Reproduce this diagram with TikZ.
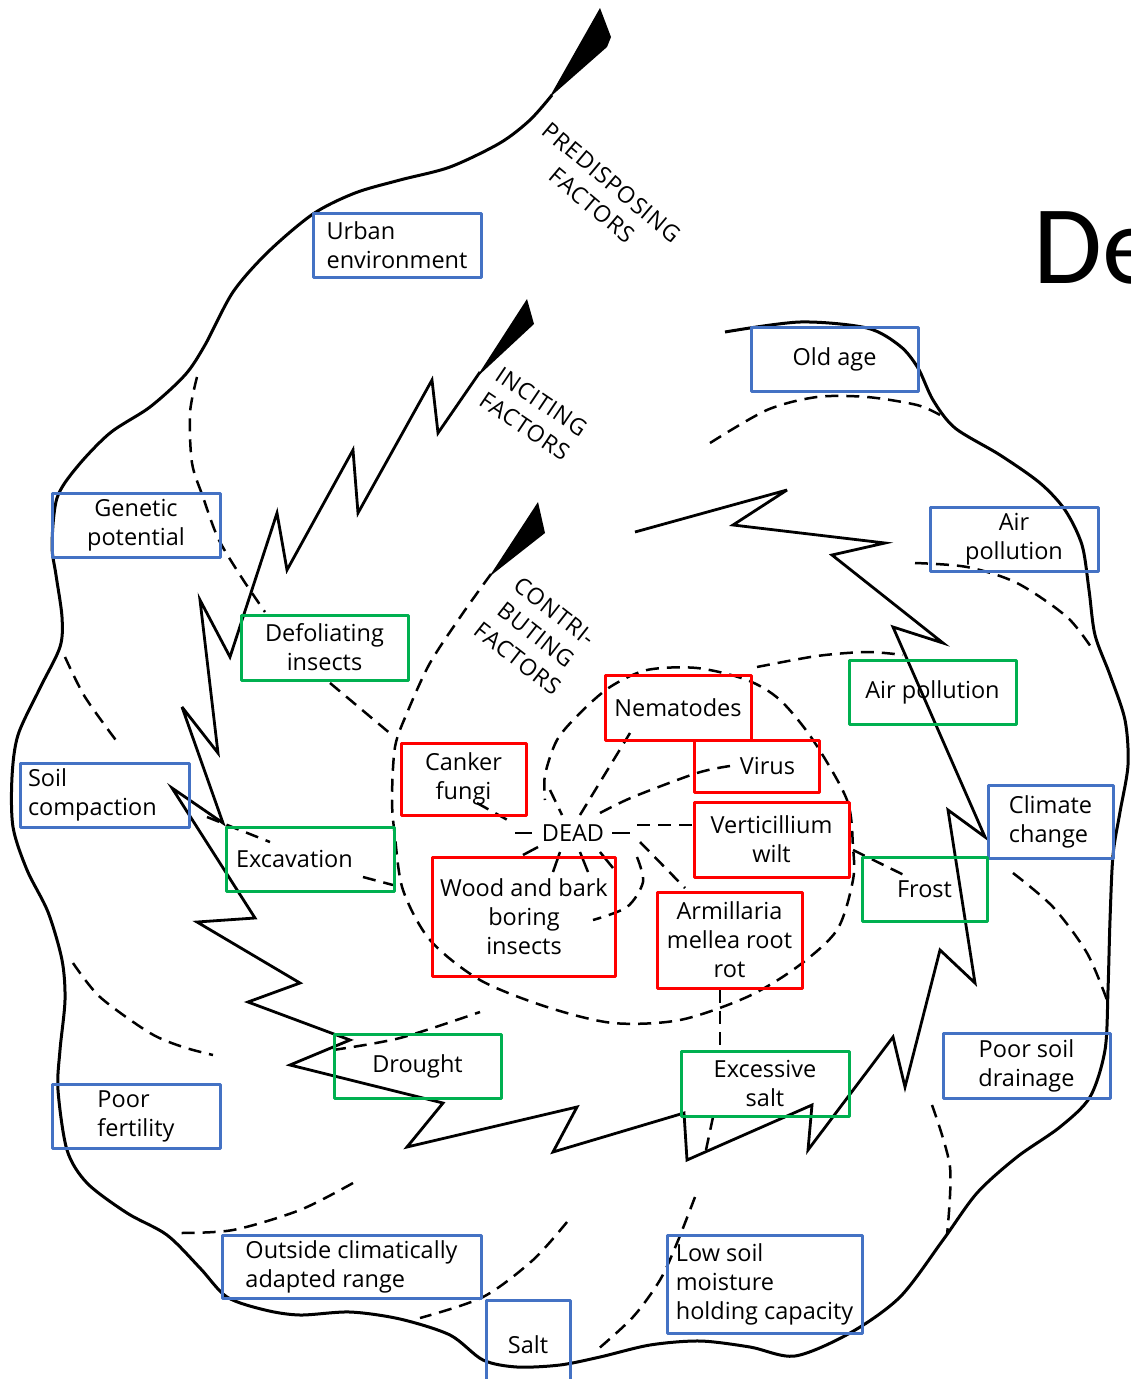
\documentclass[tikz,border=0pt]{standalone}
\usepackage{fontspec}
\setmainfont{Open Sans}
\newfontfamily\ringfont[LetterSpace=4]{Open Sans}
\newfontfamily\titlefont{Carlito}
\usepackage{tikz}
\usepackage{xcolor}
\definecolor{boxblue}{HTML}{4472C4}
\definecolor{boxgreen}{HTML}{00B050}
\definecolor{boxred}{HTML}{FF0000}

\begin{document}
\begin{tikzpicture}[x=1pt, y=-1pt, line join=round,
  spiral/.style={line width=3pt},
  bolt/.style={line width=2.8pt, line join=miter, miter limit=6},
  spoke/.style={line width=2.5pt, dash pattern=on 13pt off 8pt},
  tag/.style={draw, line width=3pt, inner xsep=8pt, inner ysep=0pt,
    font=\fontsize{23.5}{29}\selectfont},
  pre/.style={tag, draw=boxblue},
  inc/.style={tag, draw=boxgreen},
  con/.style={tag, draw=boxred},
  ring/.style={align=center, font=\ringfont\fontsize{23}{30}\selectfont}]
\useasboundingbox (0,0) rectangle (1130,1379);

% predisposing spiral
\draw [spiral] plot [smooth] coordinates {(725,332) (800,322) (867,328) (900,346) (918,368)
  (933,400) (955,428) (1000,455) (1040,483) (1065,510) (1082,545) (1089,590) (1095,635)
  (1110,675) (1125,720) (1128,765) (1120,812) (1113,855) (1110,920) (1108,990) (1105,1050)
  (1090,1097) (1060,1127) (1017,1157) (977,1193) (943,1240) (900,1297) (850,1333) (795,1356)
  (750,1347) (700,1341) (650,1345) (600,1357) (560,1365) (517,1367) (483,1360) (450,1335)
  (400,1319) (350,1312) (300,1315) (265,1310) (227,1297) (200,1268) (167,1235) (127,1213)
  (87,1183) (67,1150) (58,1090) (60,1050) (65,1000) (62,960) (48,912) (27,870) (13,827)
  (12,777) (18,735) (40,688) (60,647) (62,617) (56,575) (52,545) (57,498) (77,467) (110,433)
  (150,407) (185,375) (205,345) (233,292) (268,252) (313,214) (355,193) (400,180) (450,167)
  (500,143) (530,120) (552,95)};
\fill (549,98) -- (600,8) -- (611,37) -- (607,47) -- cycle;

% inciting bolt
\draw [bolt] (635,532) -- (787,490) -- (733,525) -- (885,543) -- (832,555) -- (943,643)
  -- (893,627) -- (985,837) -- (948,810) -- (975,983) -- (940,950) -- (905,1087)
  -- (893,1037) -- (808,1150) -- (812,1105) -- (687,1160) -- (684,1113) -- (553,1152)
  -- (577,1107) -- (407,1147) -- (443,1103) -- (290,1065) -- (350,1040) -- (248,1002)
  -- (300,983) -- (197,922) -- (255,918) -- (172,788) -- (223,823) -- (182,707)
  -- (218,753) -- (200,600) -- (230,657) -- (277,513) -- (287,570) -- (353,450)
  -- (358,513) -- (432,380) -- (438,433) -- (480,372);
\fill (476,378) -- (527,299) -- (534,324) -- cycle;

% contributing spiral
\draw [spoke] plot [smooth] coordinates {(491,574) (463,613) (430,663) (407,713) (395,747)
  (392,800) (395,837) (403,890) (430,940) (480,980) (547,1007) (613,1023) (680,1020)
  (747,997) (797,967) (837,930) (853,880) (853,847) (847,800) (813,740) (780,700)
  (747,680) (697,668) (647,670) (610,687) (580,713) (557,740) (545,775) (545,800)};
\fill (489,577) -- (538,502) -- (545,533) -- cycle;

% dashed dividers
\draw [spoke] plot [smooth] coordinates {(197,377) (190,413) (192,463) (203,497) (218,538) (240,575) (265,612)};
\draw [spoke] (330,683) -- (392,735);
\draw [spoke] plot [smooth] coordinates {(65,657) (85,697) (118,743)};
\draw [spoke] (207,817) -- (270,842);
\draw [spoke] (363,877) -- (393,885);
\draw [spoke] plot [smooth] coordinates {(73,963) (100,997) (150,1033) (183,1047) (213,1055)};
\draw [spoke] plot [smooth] coordinates {(333,1050) (400,1038) (480,1012)};
\draw [spoke] plot [smooth] coordinates {(353,1183) (300,1210) (233,1230) (177,1233)};
\draw [spoke] plot [smooth] coordinates {(567,1222) (533,1260) (483,1297) (420,1318)};
\draw [spoke] (720,990) -- (720,1050);
\draw [spoke] (713,1117) -- (706,1150);
\draw [spoke] plot [smooth] coordinates {(695,1197) (677,1243) (660,1280) (633,1317) (597,1350)};
\draw [spoke] plot [smooth] coordinates {(932,1105) (950,1167) (947,1235)};
\draw [spoke] plot [smooth] coordinates {(1013,873) (1053,907) (1087,953) (1107,1000)};
\draw [spoke] plot [smooth] coordinates {(915,563) (967,567) (1017,583) (1067,617) (1093,650)};
\draw [spoke] plot [smooth] coordinates {(710,443) (767,410) (817,397) (867,397) (917,405) (940,415)};
\draw [spoke] plot [smooth] coordinates {(757,667) (817,656) (867,652) (903,655)};
\draw [spoke] (853,850) -- (908,877);

% around DEAD
\node [font=\fontsize{23.5}{29}\selectfont] (dead) at (573,833) {DEAD};
\draw [spoke] (477,803) -- (513,823);
\draw [line width=2.5pt] (515,833) -- (532,833);
\draw [line width=2.5pt] (612,833) -- (630,833);
\draw [spoke] (637,825) -- (693,825);
\draw [spoke] plot [smooth] coordinates {(600,813) (633,797) (697,773) (730,766)};
\draw [spoke] (580,815) -- (630,733);
\draw [spoke] (550,790) -- (562,815);
\draw [line width=2.5pt] (538,847) -- (523,855);
\draw [line width=2.5pt] (560,852) -- (553,872);
\draw [line width=2.5pt] (580,852) -- (588,872);
\draw [line width=2.5pt] (600,852) -- (613,868);
\draw [spoke] plot [smooth] coordinates {(637,857) (643,882) (627,907) (593,920)};
\draw [spoke] (640,842) -- (685,888);

% ring labels
\node [ring, rotate=-40] (predis) at (602,194) {PREDISPOSING\\FACTORS};
\node [ring, rotate=-34] (incit) at (533,414) {INCITING\\FACTORS};
\node [ring, rotate=-38] (contri) at (536,635) {CONTRI-\\BUTING\\FACTORS};

% predisposing factors
\node [pre, align=left, minimum width=168pt, minimum height=64pt] (urban) at (397,245) {Urban\\environment};
\node [pre, minimum width=167pt, minimum height=64pt] (oldage) at (834.5,359) {Old age};
\node [pre, align=center, minimum width=168pt, minimum height=64pt] (genetic) at (136,525) {Genetic\\potential};
\node [pre, align=center, minimum width=168pt, minimum height=64pt] (airpre) at (1014,539) {Air\\pollution};
\node [pre, align=left, text width=153pt, minimum height=64pt] (soil) at (104.5,795) {Soil\\compaction};
\node [pre, align=left, minimum width=125pt, minimum height=73pt] (climate) at (1050.5,821.5) {Climate\\change};
\node [pre, align=center, minimum width=167pt, minimum height=65pt] (drainage) at (1026.5,1065.5) {Poor soil\\drainage};
\node [pre, align=left, minimum width=168pt, minimum height=64pt] (fertility) at (136,1116) {Poor\\fertility};
\node [pre, align=left, minimum width=259pt, minimum height=63pt] (outside) at (351.5,1266.5) {Outside climatically\\adapted range};
\node [pre, minimum width=84pt, minimum height=90pt] (salt) at (528,1345) {Salt};
\node [pre, align=left, minimum width=195pt, minimum height=98pt] (lowsoil) at (764.5,1284) {Low soil\\moisture\\holding capacity};

% inciting factors
\node [inc, align=center, minimum width=167pt, minimum height=65pt] (defol) at (324.5,647.5) {Defoliating\\insects};
\node [inc, align=left, inner xsep=10pt, text width=148pt, minimum height=64pt] (excav) at (310,859) {Excavation};
\node [inc, minimum width=167pt, minimum height=64pt] (airinc) at (932.5,692) {Air pollution};
\node [inc, minimum width=125pt, minimum height=64pt] (frost) at (924.5,889) {Frost};
\node [inc, minimum width=167pt, minimum height=64pt] (drought) at (417.5,1066) {Drought};
\node [inc, align=center, minimum width=168pt, minimum height=65pt] (excess) at (765,1083.5) {Excessive\\salt};

% contributing factors
\node [con, minimum width=146pt, minimum height=65pt] (nema) at (678,707.5) {Nematodes};
\node [con, align=right, inner xsep=24pt, text width=77pt, minimum height=52pt] (virus) at (756.5,766) {Virus};
\node [con, align=center, minimum width=125pt, minimum height=72pt] (canker) at (463.5,779) {Canker\\fungi};
\node [con, align=center, minimum width=155pt, minimum height=75pt] (verti) at (771.5,839.5) {Verticillium\\wilt};
\node [con, align=center, minimum width=168pt, minimum height=119pt] (wood) at (524,916.5) {Wood and bark\\boring\\insects};
\node [con, align=center, minimum width=145pt, minimum height=96pt] (armi) at (729.5,940) {Armillaria\\mellea root\\rot};

\node [anchor=base west, font=\titlefont\fontsize{112}{112}\selectfont] (title) at (1030,283) {De};
\end{tikzpicture}
\end{document}
